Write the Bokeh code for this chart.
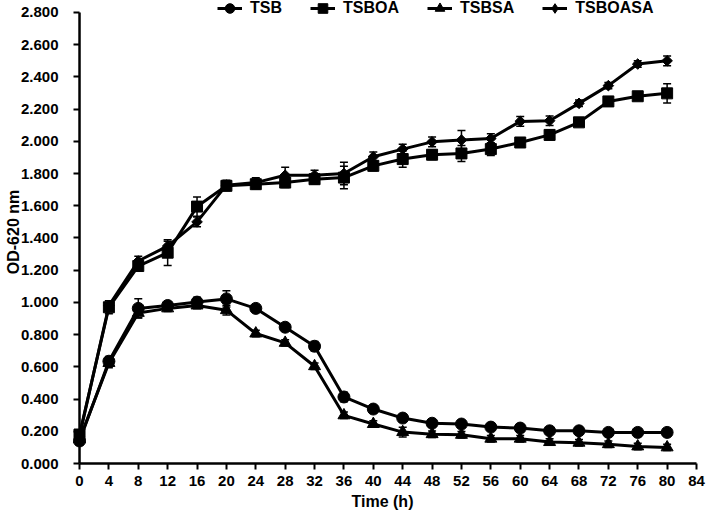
import math
from bokeh.plotting import figure
from bokeh.models import (Range1d, FixedTicker, PrintfTickFormatter, Legend,
                          LegendItem, Whisker, TeeHead, ColumnDataSource)
from bokeh.embed import file_html
from bokeh.resources import INLINE

# Optical density (OD-620 nm) over incubation time for four media
time_h = [0, 4, 8, 12, 16, 20, 24, 28, 32, 36, 40, 44, 48, 52, 56, 60, 64, 68, 72, 76, 80]

tsb = [0.14, 0.635, 0.963, 0.981, 1.002, 1.022, 0.963, 0.846, 0.728, 0.413, 0.338,
       0.282, 0.250, 0.245, 0.226, 0.220, 0.203, 0.203, 0.193, 0.193, 0.193]
tsboa = [0.18, 0.970, 1.226, 1.309, 1.595, 1.724, 1.734, 1.744, 1.765, 1.775, 1.848,
         1.890, 1.917, 1.925, 1.952, 1.993, 2.040, 2.118, 2.248, 2.280, 2.298]
tsbsa = [0.15, 0.624, 0.935, 0.963, 0.981, 0.952, 0.807, 0.749, 0.604, 0.299, 0.245,
         0.195, 0.182, 0.178, 0.154, 0.154, 0.133, 0.129, 0.120, 0.106, 0.100]
tsboasa = [0.17, 0.980, 1.257, 1.350, 1.500, 1.728, 1.744, 1.790, 1.790, 1.800, 1.904,
           1.952, 1.997, 2.008, 2.018, 2.124, 2.128, 2.236, 2.346, 2.480, 2.500]

# standard deviations
tsb_err = [0.02, 0.03, 0.06, 0.02, 0.03, 0.05, 0.02, 0.02, 0.03, 0.03, 0.02,
           0.02, 0.02, 0.02, 0.02, 0.02, 0.02, 0.02, 0.02, 0.02, 0.02]
tsboa_err = [0.03, 0.04, 0.03, 0.08, 0.06, 0.03, 0.03, 0.03, 0.03, 0.07, 0.03,
             0.05, 0.03, 0.05, 0.04, 0.03, 0.03, 0.02, 0.02, 0.02, 0.06]
tsbsa_err = [0.02, 0.03, 0.03, 0.02, 0.02, 0.03, 0.02, 0.02, 0.02, 0.02, 0.02,
             0.03, 0.02, 0.02, 0.02, 0.02, 0.02, 0.02, 0.02, 0.02, 0.02]
tsboasa_err = [0.03, 0.03, 0.03, 0.03, 0.03, 0.03, 0.03, 0.05, 0.03, 0.07, 0.03,
               0.03, 0.03, 0.06, 0.03, 0.03, 0.03, 0.02, 0.02, 0.02, 0.03]

series_names = ["TSB", "TSBOA", "TSBSA", "TSBOASA"]
x_ticks = list(range(0, 88, 4))
y_ticks = [0.0, 0.2, 0.4, 0.6, 0.8, 1.0, 1.2, 1.4, 1.6, 1.8, 2.0, 2.2, 2.4, 2.6, 2.8]
x_title = "Time (h)"
y_title = "OD-620 nm"

FONT = "Liberation Sans"

# a little room left of t=0 so the first markers are not cut by the frame
p = figure(width=709, height=515, output_backend="svg", toolbar_location=None,
           x_range=Range1d(-1.5, 84), y_range=Range1d(0, 2.8745),
           min_border_left=68, min_border_right=13, min_border_top=0,
           min_border_bottom=52)
p.grid.visible = False
p.outline_line_color = None
p.background_fill_color = "white"
p.border_fill_color = "white"

p.xaxis.bounds = (0, 84)
p.xaxis.ticker = FixedTicker(ticks=x_ticks)
p.yaxis.ticker = FixedTicker(ticks=y_ticks)
p.yaxis.formatter = PrintfTickFormatter(format="%.3f")
p.xaxis.axis_label = x_title
p.yaxis.axis_label = y_title
for ax in (p.xaxis, p.yaxis):
    ax.axis_line_width = 2.5
    ax.axis_line_color = "black"
    ax.major_tick_line_width = 2
    ax.major_tick_line_color = "black"
    ax.minor_tick_line_color = None
    ax.minor_tick_out = 0
    ax.minor_tick_in = 0
    ax.major_label_text_font = FONT
    ax.major_label_text_font_style = "bold"
    ax.major_label_text_font_size = "15px"
    ax.major_label_text_color = "black"
    ax.axis_label_text_font = FONT
    ax.axis_label_text_font_style = "bold"
    ax.axis_label_text_font_size = "16px"
    ax.axis_label_text_color = "black"
p.xaxis.major_tick_in = 0
p.xaxis.major_tick_out = 6
p.xaxis.major_label_standoff = 6
p.xaxis.axis_label_standoff = 4
# y ticks sit just left of the t=0 line, which is drawn as a segment below
p.yaxis.axis_line_color = None
p.yaxis.major_tick_in = 11
p.yaxis.major_tick_out = -5
p.yaxis.major_label_standoff = 10
p.yaxis.axis_label_standoff = -4

# vertical axis line at t = 0
p.segment(x0=[x_ticks[0]], y0=[y_ticks[0]], x1=[x_ticks[0]], y1=[y_ticks[-1]],
          line_color="black", line_width=2.5)

markers = ["circle", "square", "triangle", "square"]
sizes = [12, 11, 12, 7.5]
angles = [0, 0, 0, math.pi / 4]
legend_markers = ["circle", "square", "triangle", "diamond"]
values = [tsb, tsboa, tsbsa, tsboasa]
errors = [tsb_err, tsboa_err, tsbsa_err, tsboasa_err]

items = []
for name, vals, errs, mk, sz, ang, lmk in zip(series_names, values, errors, markers,
                                              sizes, angles, legend_markers):
    src = ColumnDataSource(dict(
        x=time_h, y=vals,
        lo=[v - e for v, e in zip(vals, errs)],
        hi=[v + e for v, e in zip(vals, errs)]))
    wh = Whisker(source=src, base="x", lower="lo", upper="hi",
                 line_color="black", line_width=1.5,
                 upper_head=TeeHead(size=8, line_width=1.5, line_color="black"),
                 lower_head=TeeHead(size=8, line_width=1.5, line_color="black"))
    p.add_layout(wh)
    ln = p.line("x", "y", source=src, line_color="black", line_width=3)
    sc = p.scatter("x", "y", source=src, marker=mk, size=sz, angle=ang,
                   fill_color="black", line_color="black")
    if lmk == mk:
        key = sc
    else:
        # legend swatch for the rotated-square series (no visible point)
        key = p.scatter(x=[float("nan")], y=[float("nan")], marker=lmk, size=sz,
                        fill_color="black", line_color="black")
    items.append(LegendItem(label=name, renderers=[ln, key]))

legend = Legend(items=items, orientation="horizontal", location=(149, 443),
                glyph_width=25, glyph_height=24, label_height=24,
                label_standoff=8, spacing=28, padding=0, margin=0,
                border_line_color=None, background_fill_alpha=0,
                label_text_font=FONT, label_text_font_style="bold",
                label_text_font_size="16px", label_text_color="black")
p.add_layout(legend)

open("out.html", "w").write(file_html(p, INLINE))
